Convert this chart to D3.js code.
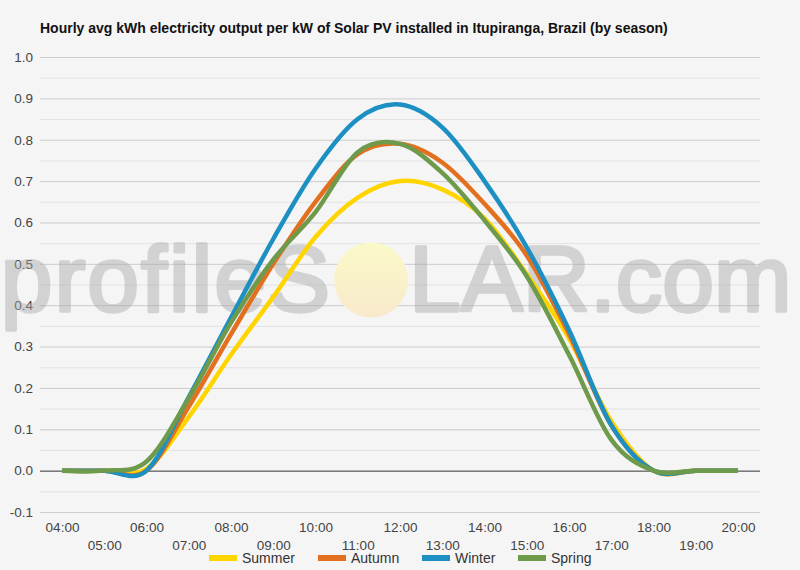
<!DOCTYPE html>
<html>
<head>
<meta charset="utf-8">
<script src="https://cdn.jsdelivr.net/npm/d3@7.9.0/dist/d3.min.js"></script>
<style>
  html, body { margin: 0; padding: 0; background: #f5f5f5; }
  svg { display: block; font-family: Arial, "Liberation Sans", sans-serif; }
</style>
</head>
<body>
<svg id="chart" width="800" height="570"></svg>
<script>
// hourly values, 04:00 .. 20:00
const hours = d3.range(4, 21);
const hourLabels = hours.map(h => String(h).padStart(2, '0') + ':00');
const yTicks = [-0.1, 0, 0.1, 0.2, 0.3, 0.4, 0.5, 0.6, 0.7, 0.8, 0.9, 1.0];
const yMinorTicks = [-0.05, 0.05, 0.15, 0.25, 0.35, 0.45, 0.55, 0.65, 0.75, 0.85, 0.95];

const seasons = ['Summer', 'Autumn', 'Winter', 'Spring'];
const summer = [0, 0, 0.005, 0.13, 0.28, 0.42, 0.565, 0.66, 0.70, 0.68, 0.61, 0.475, 0.32, 0.12, 0, 0, 0];
const autumn = [0, 0, 0, 0.155, 0.33, 0.50, 0.65, 0.765, 0.79, 0.745, 0.645, 0.52, 0.33, 0.11, 0, 0, 0];
const winter = [0, 0, 0, 0.178, 0.37, 0.56, 0.73, 0.85, 0.885, 0.83, 0.70, 0.54, 0.34, 0.11, 0, 0, 0];
const spring = [0, 0, 0.022, 0.175, 0.358, 0.51, 0.625, 0.77, 0.79, 0.72, 0.605, 0.47, 0.28, 0.075, 0, 0, 0];
const colors = ['#ffd500', '#e2701f', '#1c90c2', '#6e9a4c'];

const seriesValues = [summer, autumn, winter, spring];

const svg = d3.select('#chart');
const plotLeft = 40, plotRight = 760, plotTop = 57, plotBottom = 512;

const x = d3.scaleLinear().domain([4, 20]).range([62, 738]);
const y = d3.scaleLinear().domain([-0.1, 1.0]).range([plotBottom, plotTop]);

// title
svg.append('text')
  .attr('x', 40).attr('y', 33)
  .attr('font-size', 14).attr('font-weight', 'bold').attr('fill', '#111')
  .text('Hourly avg kWh electricity output per kW of Solar PV installed in Itupiranga, Brazil (by season)');

// minor gridlines
svg.append('g')
  .attr('transform', `translate(${plotLeft},0)`)
  .call(d3.axisLeft(y).tickValues(yMinorTicks).tickSize(-(plotRight - plotLeft)).tickFormat(''))
  .call(g => g.select('.domain').remove())
  .call(g => g.selectAll('line').attr('stroke', '#e3e3e3'));

// major gridlines + labels
svg.append('g')
  .attr('transform', `translate(${plotLeft},0)`)
  .call(d3.axisLeft(y).tickValues(yTicks).tickSize(-(plotRight - plotLeft)).tickPadding(7)
    .tickFormat(d => d.toFixed(1)))
  .call(g => g.select('.domain').remove())
  .call(g => g.selectAll('line').attr('stroke', d => d === 0 ? '#333' : '#cccccc'))
  .call(g => g.selectAll('text').attr('font-size', 13.5).attr('fill', '#444')
    .attr('font-family', 'Arial, "Liberation Sans", sans-serif'));

// watermark
const wm = svg.append('g').attr('opacity', 0.45)
  .attr('fill', '#a8a8a8').attr('stroke', '#a8a8a8').attr('stroke-width', 3.5)
  .attr('stroke-linejoin', 'round').attr('font-size', 93);
wm.append('text')
  .attr('x', 332).attr('y', 311).attr('text-anchor', 'end')
  .attr('letter-spacing', 2)
  .text('profileS');
const sun = svg.append('defs').append('linearGradient')
  .attr('id', 'sun').attr('x1', 0).attr('x2', 0).attr('y1', 0).attr('y2', 1);
sun.append('stop').attr('offset', '0%').attr('stop-color', '#fbf9c8');
sun.append('stop').attr('offset', '100%').attr('stop-color', '#f8e9cc');
svg.append('ellipse')
  .attr('cx', 371).attr('cy', 280).attr('rx', 37).attr('ry', 37.5)
  .attr('fill', 'url(#sun)');
wm.append('text')
  .attr('x', 409).attr('y', 311)
  .text('LAR.com');

// x axis labels (alternating rows)
svg.append('g')
  .attr('transform', `translate(0,${plotBottom})`)
  .call(d3.axisBottom(x).tickValues(hours).tickSize(0).tickPadding(10)
    .tickFormat((d, i) => hourLabels[i]))
  .call(g => g.select('.domain').remove())
  .call(g => g.selectAll('text').attr('font-size', 13.5).attr('fill', '#444')
    .attr('font-family', 'Arial, "Liberation Sans", sans-serif')
    .attr('dy', (d, i) => i % 2 === 0 ? '0.71em' : '2.1em'));

// lines
const line = d3.line()
  .x((d, i) => x(hours[i]))
  .y(d => y(d))
  .curve(d3.curveCardinal.tension(0));

seriesValues.forEach((vals, idx) => {
  svg.append('path')
    .attr('d', line(vals))
    .attr('fill', 'none')
    .attr('stroke', colors[idx])
    .attr('stroke-width', 4.5)
    .attr('stroke-linejoin', 'round');
});

// legend
const legendX = [209, 318, 422, 518];
const legend = svg.append('g');
seasons.forEach((s, i) => {
  legend.append('rect')
    .attr('x', legendX[i]).attr('y', 555).attr('width', 28).attr('height', 6)
    .attr('fill', colors[i]);
  legend.append('text')
    .attr('x', legendX[i] + 33).attr('y', 563)
    .attr('font-size', 14).attr('fill', '#333')
    .text(s);
});
</script>
</body>
</html>
